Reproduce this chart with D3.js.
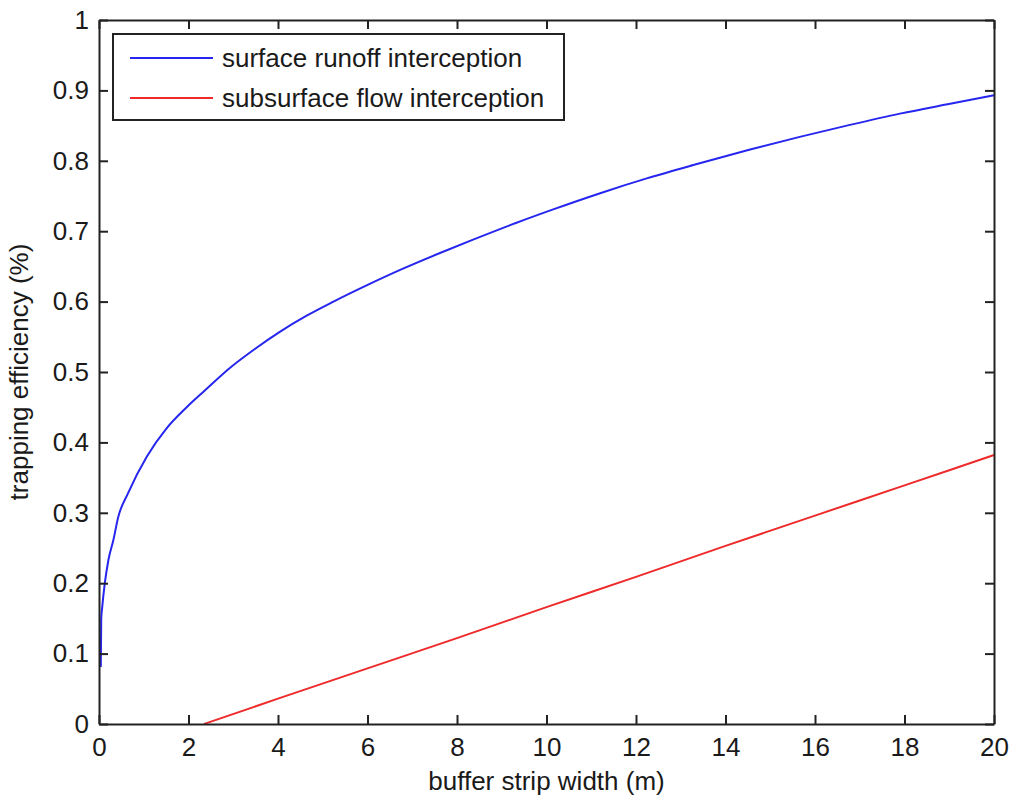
<!DOCTYPE html>
<html>
<head>
<meta charset="utf-8">
<script src="https://cdn.jsdelivr.net/npm/d3@7"></script>
<style>
  html, body { margin: 0; padding: 0; background: #fff; }
  svg { display: block; }
  text { font-family: "Liberation Sans", Arial, sans-serif; fill: #1a1a1a; }
</style>
</head>
<body>
<svg id="chart" width="1012" height="803"></svg>
<script>
// ---- data ----
const surfaceX = [0.04, 0.05, 0.07, 0.13, 0.21, 0.32, 0.43, 0.65, 1.07, 1.51, 1.96, 2.37, 2.93, 3.49, 4.04, 4.64, 5.24, 5.98, 6.73, 7.62, 8.36, 9.33, 10.15, 11.2, 12.24, 13.28, 14.55, 15.66, 16.78, 17.9, 19.02, 20];
const surfaceY = [0.081, 0.15, 0.165, 0.2, 0.233, 0.261, 0.294, 0.328, 0.380, 0.42, 0.450, 0.474, 0.506, 0.533, 0.557, 0.580, 0.600, 0.623, 0.645, 0.669, 0.688, 0.712, 0.731, 0.754, 0.775, 0.794, 0.816, 0.834, 0.851, 0.867, 0.881, 0.893];
const subsurfaceX = [2.35, 4, 6, 8, 10, 12, 14, 16, 18, 20];
const subsurfaceY = [0.0, 0.036, 0.079, 0.122, 0.166, 0.209, 0.253, 0.296, 0.339, 0.382];
const xTicks = [0, 2, 4, 6, 8, 10, 12, 14, 16, 18, 20];
const yTicks = [0, 0.1, 0.2, 0.3, 0.4, 0.5, 0.6, 0.7, 0.8, 0.9, 1];
const yTickLabels = ["0", "0.1", "0.2", "0.3", "0.4", "0.5", "0.6", "0.7", "0.8", "0.9", "1"];
const seriesNames = ["surface runoff interception", "subsurface flow interception"];
const seriesColors = ["#2626ee", "#ee2a2a"];
const xLabel = "buffer strip width (m)";
const yLabel = "trapping efficiency (%)";

// ---- layout ----
const L = 99, R = 994, T = 20, B = 724;
const svg = d3.select("#chart");
svg.append("rect").attr("width", 1012).attr("height", 803).attr("fill", "#fff");

const x = d3.scaleLinear().domain([0, 20]).range([L, R]);
const y = d3.scaleLinear().domain([0, 1]).range([B, T]);
const FS = 26;
const tickLen = 9;
const axisColor = "#222";

// lines
const series = [
  surfaceX.map((v, i) => [v, surfaceY[i]]),
  subsurfaceX.map((v, i) => [v, subsurfaceY[i]])
];
const line = d3.line().x(d => x(d[0])).y(d => y(d[1])).curve(d3.curveMonotoneX);
series.forEach((s, i) => {
  svg.append("path").datum(s)
    .attr("d", line)
    .attr("fill", "none")
    .attr("stroke", seriesColors[i])
    .attr("stroke-width", 2);
});

// axes with inward ticks
const fmtY = (d) => yTickLabels[yTicks.indexOf(d)];
const bottomAxis = d3.axisBottom(x).tickValues(xTicks).tickSizeInner(-tickLen).tickSizeOuter(0).tickPadding(14).tickFormat(d3.format("d"));
const topAxis = d3.axisTop(x).tickValues(xTicks).tickSizeInner(-tickLen).tickSizeOuter(0).tickFormat("");
const leftAxis = d3.axisLeft(y).tickValues(yTicks).tickSizeInner(-tickLen).tickSizeOuter(0).tickPadding(10).tickFormat(fmtY);
const rightAxis = d3.axisRight(y).tickValues(yTicks).tickSizeInner(-tickLen).tickSizeOuter(0).tickFormat("");

function style(g) {
  g.select(".domain").attr("stroke", axisColor).attr("stroke-width", 2);
  g.selectAll(".tick line").attr("stroke", axisColor).attr("stroke-width", 2);
  g.selectAll(".tick text").attr("font-size", FS).attr("font-family", "Liberation Sans, Arial, sans-serif").attr("fill", "#1a1a1a");
}
svg.append("g").attr("transform", `translate(0,${B})`).call(bottomAxis).call(style);
svg.append("g").attr("transform", `translate(0,${T})`).call(topAxis).call(style);
svg.append("g").attr("transform", `translate(${L},0)`).call(leftAxis).call(style);
svg.append("g").attr("transform", `translate(${R},0)`).call(rightAxis).call(style);

// axis labels
svg.append("text").attr("x", (L + R) / 2).attr("y", 790)
  .attr("text-anchor", "middle").attr("font-size", FS).text(xLabel);
svg.append("text").attr("transform", `translate(28,${(T + B) / 2}) rotate(-90)`)
  .attr("text-anchor", "middle").attr("font-size", FS).text(yLabel);

// legend
const lg = svg.append("g");
lg.append("rect").attr("x", 113).attr("y", 34).attr("width", 451).attr("height", 86)
  .attr("fill", "#fff").attr("stroke", axisColor).attr("stroke-width", 2);
seriesNames.forEach((name, i) => {
  const ly = 58 + i * 40;
  lg.append("line").attr("x1", 130).attr("x2", 213).attr("y1", ly).attr("y2", ly)
    .attr("stroke", seriesColors[i]).attr("stroke-width", 2);
  lg.append("text").attr("x", 222).attr("y", ly).attr("dy", "0.35em")
    .attr("font-size", FS).text(name);
});
</script>
</body>
</html>
